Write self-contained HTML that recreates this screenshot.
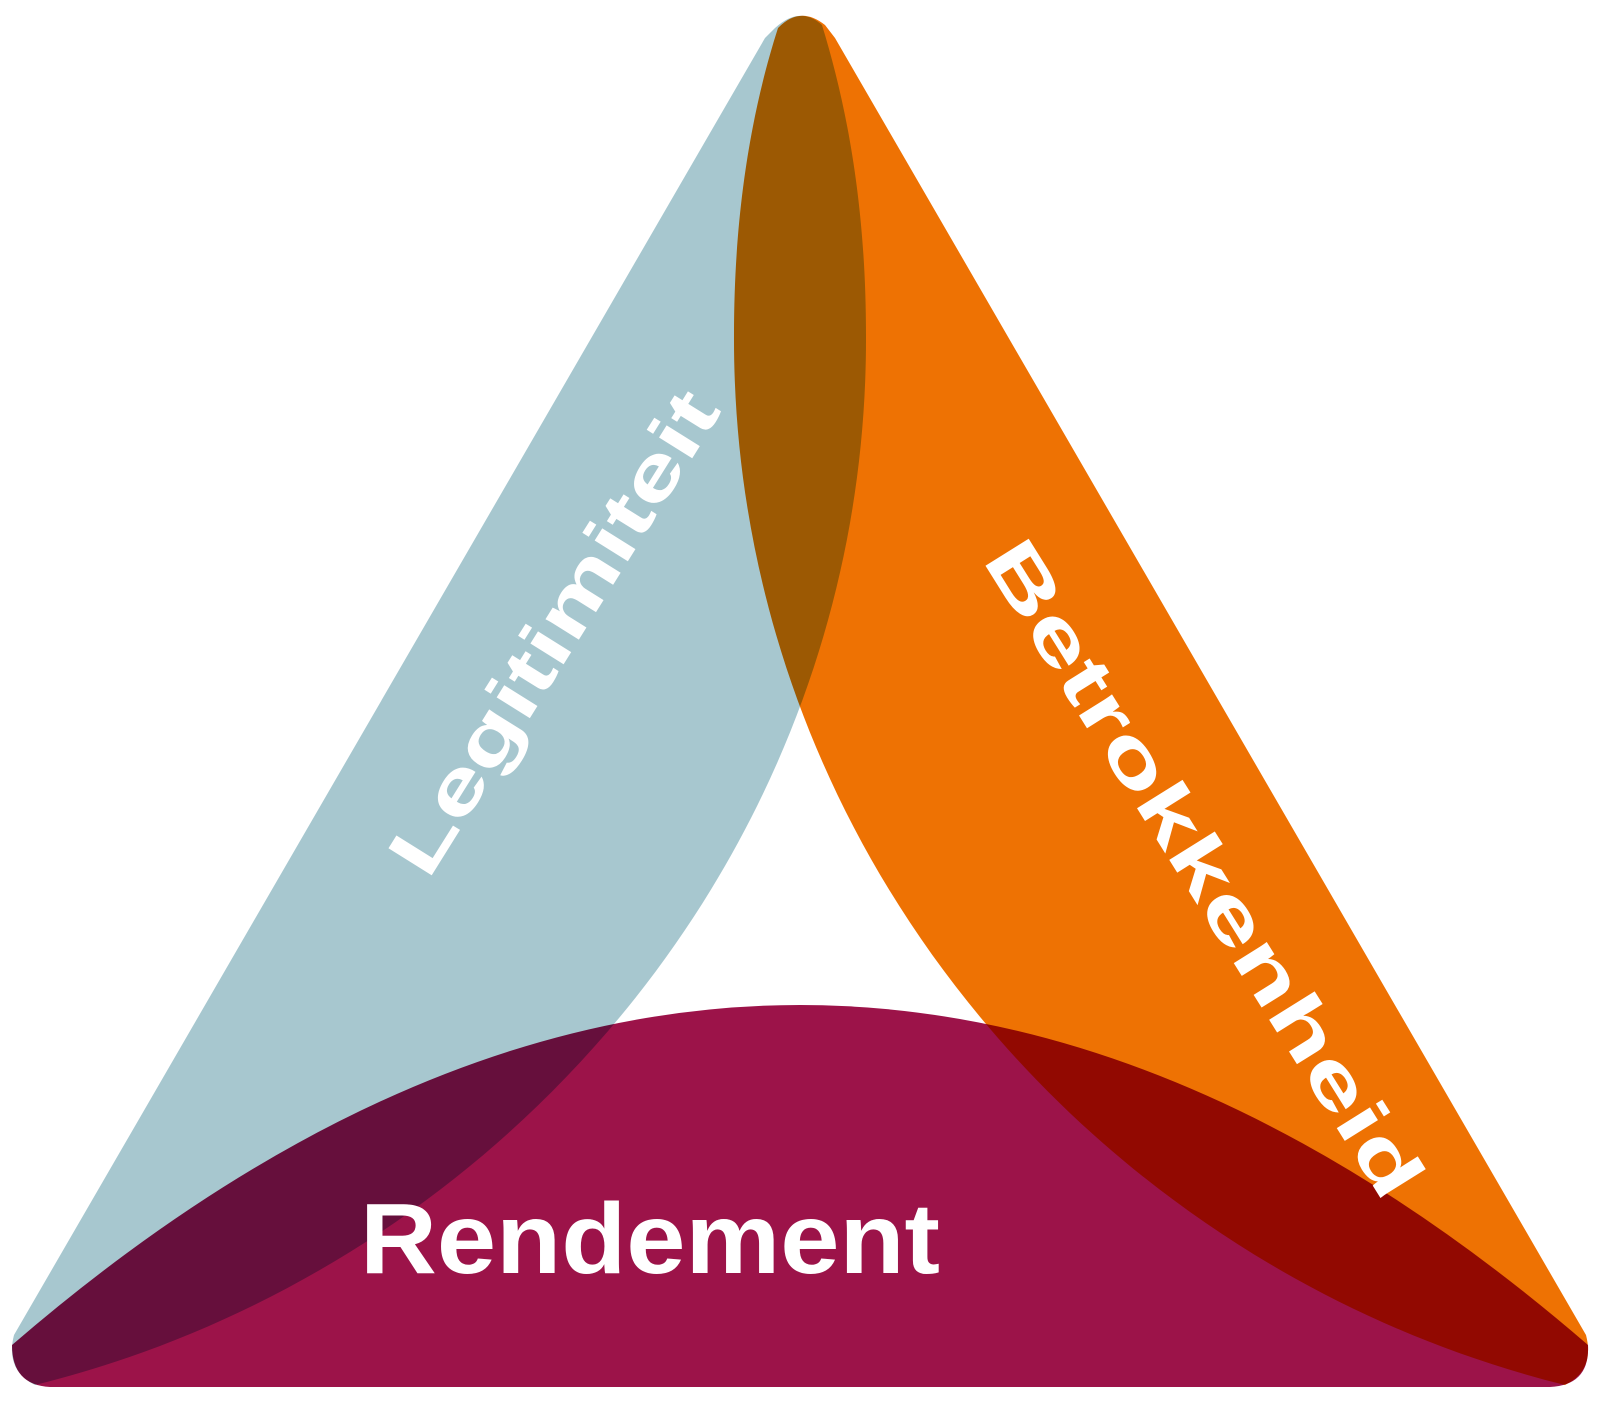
<!DOCTYPE html>
<html><head><meta charset="utf-8"><style>
html,body{margin:0;padding:0;background:#fff;}
svg{display:block}
text{font-family:"Liberation Sans",sans-serif;font-weight:bold;fill:#fff}
</style></head><body>
<svg width="1600" height="1402" viewBox="0 0 1600 1402" xmlns="http://www.w3.org/2000/svg">
<g style="isolation:isolate">
<path style="mix-blend-mode:multiply" fill="#a7c7cf" d="M 775,28 Q 800,5 822,25 C 845,100 866,200 866,335 C 868,850 500,1270 35,1385 Q 5,1370 14,1335 L 765,38 Z"/>
<path style="mix-blend-mode:multiply" fill="#ee7203" d="M 825,25 Q 800,5 778,28 C 755,100 734,200 734,335 C 732,850 1100,1270 1565,1385 Q 1595,1370 1586,1335 L 835,38 Z"/>
<path style="mix-blend-mode:multiply" fill="#9c1349" d="M 12,1345 Q 12,1385 50,1387 L 1550,1387 Q 1590,1385 1588,1345 Q 800,665 12,1345 Z"/>
</g>
<text x="0" y="0" font-size="74" text-anchor="middle" textLength="555" lengthAdjust="spacingAndGlyphs" transform="translate(553,632) rotate(-58) translate(0,26)">Legitimiteit</text>
<text x="0" y="0" font-size="74" text-anchor="middle" textLength="760" lengthAdjust="spacingAndGlyphs" transform="translate(1205,868) rotate(58) translate(0,26)">Betrokkenheid</text>
<text x="650" y="1273" font-size="100" text-anchor="middle" textLength="580" lengthAdjust="spacingAndGlyphs">Rendement</text>
</svg>
</body></html>
